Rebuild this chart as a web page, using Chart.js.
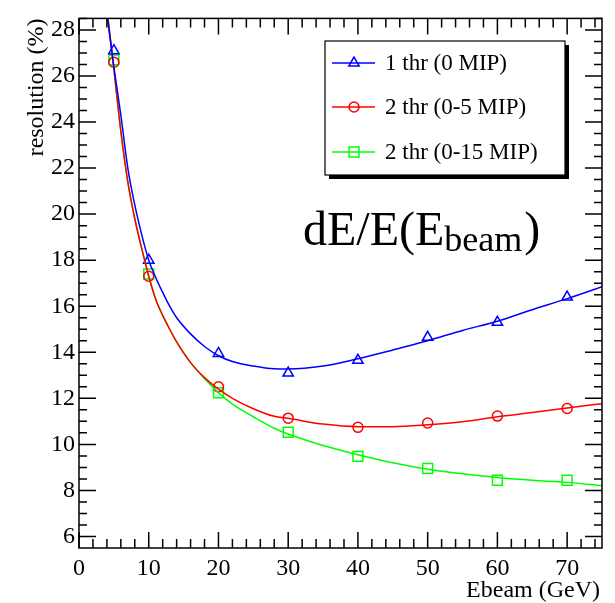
<!DOCTYPE html>
<html>
<head>
<meta charset="utf-8">
<script src="https://cdn.jsdelivr.net/npm/chart.js@4"></script>
<style>
  html, body { margin: 0; padding: 0; background: #fff; }
  #wrap { width: 615px; height: 603px; }
</style>
</head>
<body>
<div id="wrap"><canvas id="resol" width="615" height="603"></canvas></div>
<script>
// Puntos medidos
const ebeam = [5, 10, 20, 30, 40, 50, 60, 70];
const res1thr = [27.1, 18.0, 13.95, 13.1, 13.65, 14.65, 15.3, 16.4];
const res2thr5 = [26.6, 17.3, 12.5, 11.14, 10.74, 10.93, 11.23, 11.56];
const res2thr15 = [26.7, 17.4, 12.24, 10.53, 9.48, 8.95, 8.44, 8.44];

// Curvas de ajuste
const fitX = [4, 5, 6, 7, 8, 9, 10, 11, 12, 13, 14, 16, 18, 20, 22, 25, 28, 30, 35, 40, 45, 50, 55, 60, 65, 70, 75];
const fit1thr = [28.7, 26.4, 24.3, 22.0, 20.4, 19.1, 18.0, 17.25, 16.6, 16.0, 15.5, 14.8, 14.25, 13.85, 13.6, 13.4, 13.28, 13.27, 13.4, 13.72, 14.1, 14.5, 14.95, 15.35, 15.85, 16.33, 16.85];
const fit2thr5 = [28.9, 26.3, 23.6, 21.4, 19.8, 18.5, 17.3, 16.3, 15.6, 15.0, 14.45, 13.55, 12.9, 12.4, 12.0, 11.55, 11.22, 11.13, 10.88, 10.77, 10.77, 10.85, 10.98, 11.2, 11.38, 11.58, 11.77];
const fit2thr15 = [28.9, 26.3, 23.6, 21.4, 19.8, 18.5, 17.3, 16.3, 15.6, 15.0, 14.45, 13.55, 12.85, 12.25, 11.75, 11.2, 10.7, 10.45, 9.95, 9.55, 9.2, 8.92, 8.72, 8.56, 8.44, 8.35, 8.21];

const legendLabels = ['1 thr (0 MIP)', '2 thr (0-5 MIP)', '2 thr (0-15 MIP)'];
const colores = ['#0000ff', '#ff0000', '#00ff00'];
const marcadores = ['triangle', 'circle', 'rect'];
const radios = [6, 5, 7];

const SERIF = '"Liberation Serif", "DejaVu Serif", serif';

function pares(xs, ys) {
    return xs.map((x, i) => ({ x: x, y: ys[i] }));
}

const curvas = [fit1thr, fit2thr5, fit2thr15];
const puntos = [res1thr, res2thr5, res2thr15];

const datasets = [];
curvas.forEach((c, i) => {
    datasets.push({
        label: legendLabels[i] + ' fit',
        data: pares(fitX, c),
        showLine: true,
        borderColor: colores[i],
        borderWidth: 1.5,
        pointRadius: 0,
        cubicInterpolationMode: 'monotone',
        fill: false
    });
});
puntos.forEach((p, i) => {
    datasets.push({
        label: legendLabels[i],
        data: pares(ebeam, p),
        showLine: false,
        pointStyle: marcadores[i],
        pointRadius: radios[i],
        pointBorderColor: colores[i],
        pointBackgroundColor: 'rgba(0,0,0,0)',
        pointBorderWidth: 1.5
    });
});

// Marco, marcas de ejes estilo ROOT, titulos y leyenda
const rootStyle = {
    id: 'rootStyle',
    afterDraw(chart) {
        const ctx = chart.ctx;
        const a = chart.chartArea;
        const xs = chart.scales.x;
        const ys = chart.scales.y;
        ctx.save();
        ctx.strokeStyle = '#000';
        ctx.lineWidth = 1.5;
        ctx.strokeRect(a.left, a.top, a.right - a.left, a.bottom - a.top);

        ctx.beginPath();
        for (let v = 0; v <= 75; v += 2) {
            const px = xs.getPixelForValue(v);
            const len = (v % 10 === 0) ? 16 : 9;
            ctx.moveTo(px, a.bottom); ctx.lineTo(px, a.bottom - len);
            ctx.moveTo(px, a.top); ctx.lineTo(px, a.top + len);
        }
        for (let v = 6; v <= 28.5; v += 0.5) {
            const py = ys.getPixelForValue(v);
            const len = (v % 2 === 0) ? 17 : 8;
            ctx.moveTo(a.left, py); ctx.lineTo(a.left + len, py);
            ctx.moveTo(a.right, py); ctx.lineTo(a.right - len, py);
        }
        ctx.stroke();

        // Titulos de ejes
        ctx.fillStyle = '#000';
        ctx.font = '24px ' + SERIF;
        ctx.textAlign = 'right';
        ctx.textBaseline = 'alphabetic';
        ctx.fillText('Ebeam (GeV)', a.right - 2, 597);
        ctx.save();
        ctx.translate(43, a.top);
        ctx.rotate(-Math.PI / 2);
        ctx.textAlign = 'right';
        ctx.fillText('resolution (%)', 0, 0);
        ctx.restore();

        // Texto dE/E(Ebeam)
        ctx.textAlign = 'left';
        ctx.font = '48px ' + SERIF;
        let tx = 303;
        ctx.fillText('dE/E(E', tx, 245);
        tx += ctx.measureText('dE/E(E').width;
        ctx.font = '36px ' + SERIF;
        ctx.fillText('beam', tx, 251);
        tx += ctx.measureText('beam').width;
        ctx.font = '48px ' + SERIF;
        ctx.fillText(')', tx + 2, 245);

        // Leyenda
        const lx = 325, ly = 41, lw = 240, lh = 134;
        ctx.fillStyle = '#000';
        ctx.fillRect(lx + 4, ly + 4, lw, lh);
        ctx.fillStyle = '#fff';
        ctx.fillRect(lx, ly, lw, lh);
        ctx.lineWidth = 1.2;
        ctx.strokeRect(lx, ly, lw, lh);
        const filas = [63, 107, 152];
        legendLabels.forEach((t, i) => {
            const y = filas[i];
            ctx.strokeStyle = colores[i];
            ctx.lineWidth = 1.5;
            ctx.beginPath();
            ctx.moveTo(332, y); ctx.lineTo(375, y);
            ctx.stroke();
            ctx.fillStyle = 'rgba(0,0,0,0)';
            Chart.helpers.drawPoint(ctx, {
                pointStyle: marcadores[i], radius: radios[i], rotation: 0, borderWidth: 1.5
            }, 354, y);
            ctx.fillStyle = '#000';
            ctx.font = '23px ' + SERIF;
            ctx.textBaseline = 'middle';
            ctx.fillText(t, 385, y + 1);
        });
        ctx.restore();
    }
};

const ctx = document.getElementById('resol').getContext('2d');
new Chart(ctx, {
    type: 'scatter',
    data: { datasets: datasets },
    options: {
        responsive: false,
        animation: false,
        layout: { padding: { top: 10, right: 13, left: 0, bottom: 0 } },
        plugins: {
            legend: { display: false },
            tooltip: { enabled: false }
        },
        scales: {
            x: {
                type: 'linear',
                min: 0,
                max: 75,
                grid: { display: false, drawTicks: false },
                border: { display: false },
                afterFit: function(scale) { scale.height = 55; },
                ticks: {
                    stepSize: 10,
                    includeBounds: false,
                    padding: 6,
                    color: '#000',
                    font: { family: SERIF, size: 24 }
                }
            },
            y: {
                min: 5.5,
                max: 28.5,
                grid: { display: false, drawTicks: false },
                border: { display: false },
                afterFit: function(scale) { scale.width = 79; },
                ticks: {
                    stepSize: 2,
                    includeBounds: false,
                    padding: 4,
                    color: '#000',
                    font: { family: SERIF, size: 24 }
                }
            }
        }
    },
    plugins: [rootStyle]
});
</script>
</body>
</html>
